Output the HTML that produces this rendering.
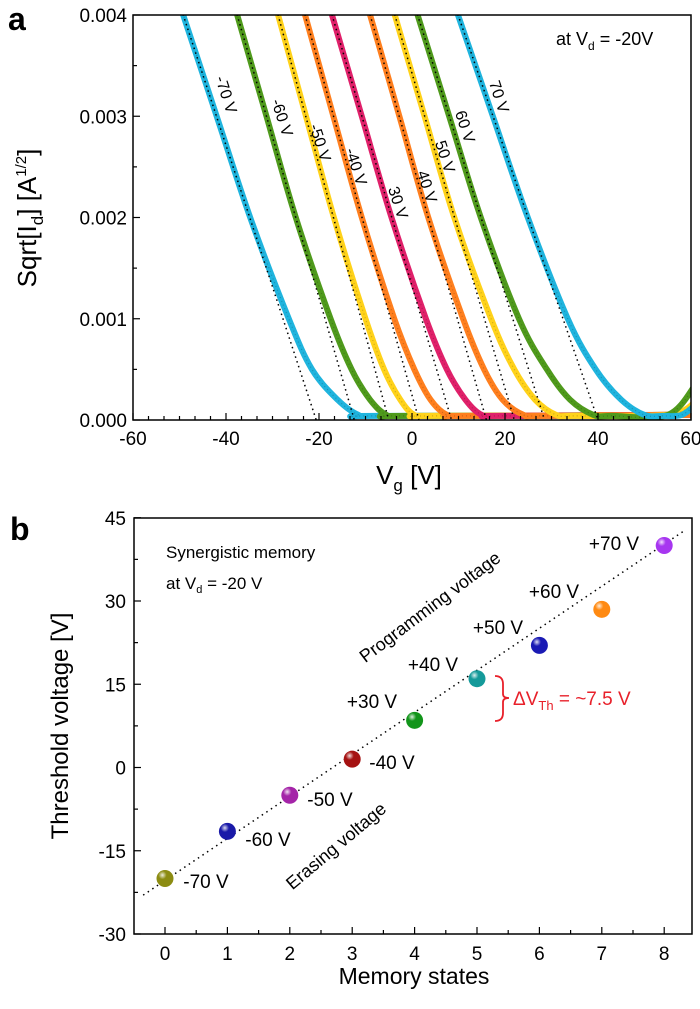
<!DOCTYPE html>
<html><head><meta charset="utf-8"><style>
body{margin:0;background:#fff}
svg{display:block;font-family:"Liberation Sans",sans-serif}
</style></head><body>
<svg id="fig" width="700" height="1009" viewBox="0 0 700 1009" xmlns="http://www.w3.org/2000/svg">
<g id="pa"></g>
<g id="pb"></g>
</svg>
<script>
// ---------- Panel a data ----------
const levelsA = [4, 3, 2, 1, 0.5, 0.2, 0.05];           // sqrt(Id) in 1e-3 A^1/2
const curveNames = ["-70 V","-60 V","-50 V","-40 V","30 V","40 V","50 V","60 V","70 V"];
const curveColors = ["#1fb4de","#4f9a1c","#ffd21a","#ff7f1e","#e0206a","#ff7f1e","#ffd21a","#4f9a1c","#1fb4de"];
const curveV0 = [-49.2,-42,-34.8,-26.5,-21.5,-16,-11.5];
const curveV1 = [-37.6,-31.3,-25,-17.5,-13,-9,-5.5];
const curveV2 = [-28.8,-22.8,-16.8,-10,-6,-2.5,0.5];
const curveV3 = [-23,-16.9,-10.8,-3.8,0.5,4,7.5];
const curveV4 = [-17.2,-10.8,-4.4,3,7.5,11.5,15];
const curveV5 = [-9,-2.7,3.5,11,15.5,19.5,24];
const curveV6 = [-3.7,2.7,9.1,17,22,26.5,31];
const curveV7 = [1.2,8,14.8,23,29,34,39];
const curveV8 = [9.9,17.4,24.9,33.5,39.5,45,50];
const curveTailEnd = [0.12,0.05,0.08,0.05,0.05,0.05,0.18,0.35,0.15];   // value at Vg=60
const vthA = [-20.6,-12.4,-5,1.5,8.5,16,22,28.5,40];
const xTicksA = [-60,-40,-20,0,20,40,60];
const yTicksA = ["0.000","0.001","0.002","0.003","0.004"];
const labelPosA = [[225,95],[281,118],[319,143],[355,167],[397,203],[426,187],[444,157],[464,127],[498,97]];

// ---------- Panel b data ----------
const statesB = [0,1,2,3,4,5,6,7,8];
const vthB = [-20,-11.5,-5,1.5,8.5,16,22,28.5,40];
const colorsB = ["#8c8c12","#1a1aa8","#a424a8","#a51212","#12951a","#159a9a","#1a1ab4","#ff8a12","#a736f0"];
const labelsB = ["-70 V","-60 V","-50 V","-40 V","+30 V","+40 V","+50 V","+60 V","+70 V"];
const labelPosB = [[206,881],[268,839],[330,799],[392,762],[372,701],[433,664],[498,627],[554,591],[614,543]];
const yTicksB = [45,30,15,0,-15,-30];
const fitB = [[-0.35,-23],[8.3,42.5]];

const NS="http://www.w3.org/2000/svg";
function mk(tag,attrs,parent,text){const e=document.createElementNS(NS,tag);for(const k in attrs)e.setAttribute(k,attrs[k]);if(text!==undefined)e.textContent=text;parent.appendChild(e);return e;}
function smoothPath(P){
  let d='M'+P[0][0].toFixed(1)+','+P[0][1].toFixed(1);
  for(let i=0;i<P.length-1;i++){
    const p0=P[Math.max(0,i-1)],p1=P[i],p2=P[i+1],p3=P[Math.min(P.length-1,i+2)];
    const c1=[p1[0]+(p2[0]-p0[0])/6,p1[1]+(p2[1]-p0[1])/6];
    const c2=[p2[0]-(p3[0]-p1[0])/6,p2[1]-(p3[1]-p1[1])/6];
    d+='C'+c1[0].toFixed(1)+','+c1[1].toFixed(1)+' '+c2[0].toFixed(1)+','+c2[1].toFixed(1)+' '+p2[0].toFixed(1)+','+p2[1].toFixed(1);
  }
  return d;
}

// ---------- Panel a ----------
const pa=document.getElementById('pa');
const AL=133,AR=691,AT=15,AB=420;
const xa=v=>AL+(v+60)*(AR-AL)/120;
const ya=s=>AB-s*(AB-AT)/4;
const defs=mk('defs',{},pa);
const cp=mk('clipPath',{id:'clipA'},defs);mk('rect',{x:AL,y:AT,width:AR-AL,height:AB-AT},cp);
const curvesG=mk('g',{'clip-path':'url(#clipA)'},pa);
const allV=[curveV0,curveV1,curveV2,curveV3,curveV4,curveV5,curveV6,curveV7,curveV8];
allV.forEach((vs,i)=>{
  let pts=vs.map((v,j)=>[v,levelsA[j]]);
  pts.unshift([vs[0]-(vs[1]-vs[0])*0.1,levelsA[0]+0.1]);
  const last=vs[vs.length-1];
  pts.push([last+4,0.04]);
  if(last+4<55) pts.push([Math.max(last+8,55),0.05]);
  pts.push([61,curveTailEnd[i]]);
  const d=smoothPath(pts.map(p=>[xa(p[0]),ya(p[1])]));
  const c=mk('path',{d:d,fill:'none',stroke:curveColors[i],'stroke-width':6,'stroke-linejoin':'round'},curvesG);
  
  
  const dots=mk('path',{d:d,fill:'none',stroke:'#000','stroke-opacity':0.2,'stroke-width':1.2,'stroke-dasharray':'1 3'},curvesG);
  
  
});
allV.forEach((vs,i)=>{
  const ln=mk('line',{x1:xa(vs[0]-(vs[1]-vs[0])*0.1),y1:ya(4.1),x2:xa(vthA[i]),y2:ya(0),stroke:'#000','stroke-width':1.5,'stroke-dasharray':'1.5 3.5'},curvesG);
  
  
});
curveNames.forEach((n,i)=>{
  const p=labelPosA[i];
  const t=mk('text',{x:p[0],y:p[1],'font-size':16,'text-anchor':'middle','dominant-baseline':'middle',transform:`rotate(72 ${p[0]} ${p[1]})`},pa,n);
  
  
});
mk('rect',{x:AL,y:AT,width:AR-AL,height:AB-AT,fill:'none',stroke:'#000','stroke-width':1.5,},pa);
for(let k=0;k<=36;k++){const v=-60+k*120/36;const major=k%6===0;mk('line',{x1:xa(v),x2:xa(v),y1:AB,y2:AB-(major?7:4),stroke:'#000','stroke-width':1.2},pa);}
xTicksA.forEach(v=>{const t=mk('text',{x:xa(v),y:AB+25,'font-size':19,'text-anchor':'middle'},pa,String(v));});
for(let k=0;k<=8;k++){const s=k*0.5;mk('line',{x1:AL,x2:AL+(k%2?4:7),y1:ya(s),y2:ya(s),stroke:'#000','stroke-width':1.2},pa);}
yTicksA.forEach((l,k)=>{const t=mk('text',{x:AL-6,y:ya(k)+7,'font-size':19,'text-anchor':'end'},pa,l);});
</script>
<script>
(function(){
const pa=document.getElementById('pa');
pa.insertAdjacentHTML('beforeend',`
<text x="8" y="30" font-size="32" font-weight="bold">a</text>
<text x="556" y="45" font-size="18">at V<tspan font-size="12" dy="5">d</tspan><tspan dy="-5"> = -20V</tspan></text>
<text x="409" y="484" font-size="26" text-anchor="middle">V<tspan font-size="17" dy="7">g</tspan><tspan dy="-7"> [V]</tspan></text>
<text transform="translate(36 218) rotate(-90)" font-size="26" text-anchor="middle">Sqrt[I<tspan font-size="17" dy="7">d</tspan><tspan dy="-7">] [A</tspan><tspan font-size="15" dy="-10">1/2</tspan><tspan dy="10">]</tspan></text>
`);
})();
// ---------- Panel b ----------
(function(){
const pb=document.getElementById('pb');
const BL=134,BR=692,BT=518,BB=934;
const xb=s=>165+s*62.4;
const yb=v=>767.5-v*(BB-601)/60;
mk('rect',{x:BL,y:BT,width:BR-BL,height:BB-BT,fill:'none',stroke:'#000','stroke-width':1.5,},pb);
for(let k=0;k<=17;k++){const s=-0.5+k*0.5;if(s<0)continue;mk('line',{x1:xb(s),x2:xb(s),y1:BB,y2:BB-(k%2?7:4),stroke:'#000','stroke-width':1.2},pb);}
statesB.forEach(s=>{const t=mk('text',{x:xb(s),y:BB+26,'font-size':19,'text-anchor':'middle'},pb,String(s));});
for(let v=-30;v<=45;v+=7.5){mk('line',{x1:BL,x2:BL+((v%15===0)?7:4),y1:yb(v),y2:yb(v),stroke:'#000','stroke-width':1.2},pb);}
yTicksB.forEach(v=>{const t=mk('text',{x:BL-8,y:yb(v)+7,'font-size':19,'text-anchor':'end'},pb,String(v));});
const fl=mk('line',{x1:xb(fitB[0][0]),y1:yb(fitB[0][1]),x2:xb(fitB[1][0]),y2:yb(fitB[1][1]),stroke:'#000','stroke-width':1.5,'stroke-dasharray':'1.5 4'},pb);


const defs=mk('defs',{},pb);
const rg=mk('radialGradient',{id:'shine',cx:'0.35',cy:'0.3',r:'0.7'},defs);
mk('stop',{offset:'0','stop-color':'#fff','stop-opacity':0.85},rg);
mk('stop',{offset:'0.35','stop-color':'#fff','stop-opacity':0},rg);
statesB.forEach((s,i)=>{
  const c=mk('circle',{cx:xb(s),cy:yb(vthB[i]),r:8.5,fill:colorsB[i]},pb);
  
  
  mk('circle',{cx:xb(s),cy:yb(vthB[i]),r:8.5,fill:'url(#shine)'},pb);
  const p=labelPosB[i];
  const t=mk('text',{x:p[0],y:p[1]+7,'font-size':19,'text-anchor':'middle'},pb,labelsB[i]);
  
  
});
pb.insertAdjacentHTML('beforeend',`
<text x="10" y="540" font-size="32" font-weight="bold">b</text>
<text x="166" y="558" font-size="17">Synergistic memory</text>
<text x="166" y="589" font-size="17">at V<tspan font-size="11" dy="4">d</tspan><tspan dy="-4"> = -20 V</tspan></text>
<text x="430" y="613" font-size="18" text-anchor="middle" transform="rotate(-37 430 607)">Programming voltage</text>
<text x="336" y="852" font-size="18" text-anchor="middle" transform="rotate(-40 336 846)">Erasing voltage</text>
<path d="M495,676 Q503,676 503,684 L503,694 Q503,698 509,698 Q503,698 503,702 L503,713 Q503,721 495,721" fill="none" stroke="#e8202a" stroke-width="1.8"/>
<text x="513" y="705" font-size="19" fill="#e8202a">ΔV<tspan font-size="13" dy="5">Th</tspan><tspan dy="-5"> = ~7.5 V</tspan></text>
<text x="414" y="984" font-size="23" text-anchor="middle">Memory states</text>
<text transform="translate(68 726) rotate(-90)" font-size="24" text-anchor="middle">Threshold voltage [V]</text>
`);
})();
</script>
</body></html>
